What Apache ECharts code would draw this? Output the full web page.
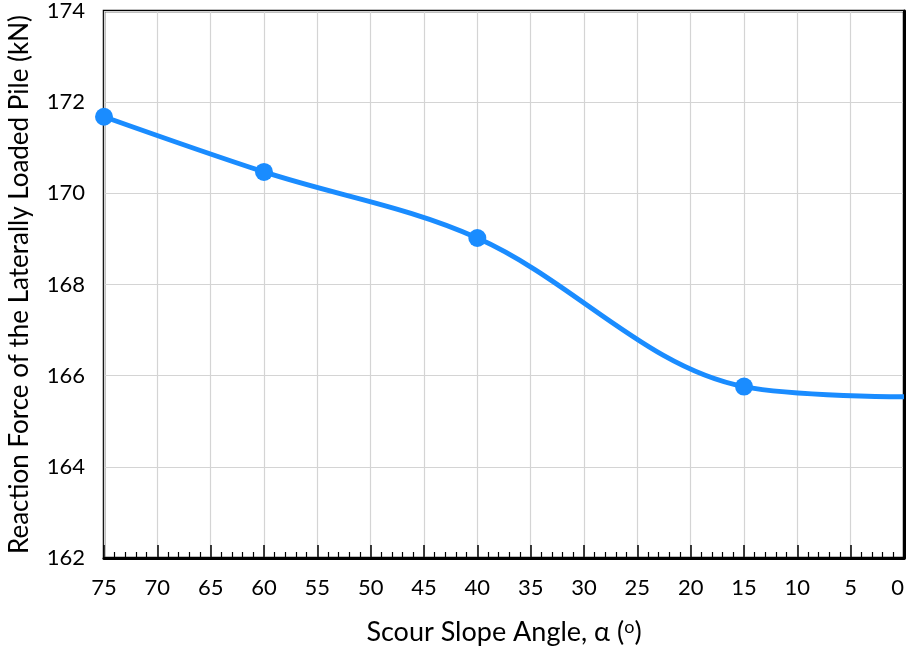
<!DOCTYPE html>
<html>
<head>
<meta charset="utf-8">
<script src="https://cdn.jsdelivr.net/npm/echarts@6/dist/echarts.min.js"></script>
<style>
  html, body { margin: 0; padding: 0; background: #fff; }
  #chart { width: 907px; height: 649px; }
</style>
</head>
<body>
<div id="chart"></div>
<script>
// Scour slope angle (degrees) and pile reaction force (kN)
const slopeAngles = [75, 60, 40, 15, 0];
const reactionForce = [171.68, 170.47, 169.02, 165.76, 165.54];
// Points that carry a marker (the last curve point is plotted without one)
const markedPoints = [true, true, true, true, false];

const FONT = 'Lato, "Open Sans", sans-serif';

const lineData = slopeAngles.map((a, i) => ({
  value: [a, reactionForce[i]],
  symbolSize: markedPoints[i] ? 18 : 0
}));

const chart = echarts.init(document.getElementById('chart'), null, { renderer: 'canvas' });
chart.setOption({
  backgroundColor: '#ffffff',
  animation: false,
  grid: {
    left: 104, right: 3, top: 11, bottom: 91,
    outerBoundsMode: 'none',
    containLabel: false,
    show: true, borderColor: '#000', borderWidth: 2.5, backgroundColor: 'transparent'
  },
  xAxis: {
    type: 'value',
    inverse: true,
    min: 0, max: 75, interval: 5,
    name: '{t|Scour Slope Angle, α (}{s|o}{t|)}',
    nameLocation: 'middle',
    nameGap: 60,
    nameTextStyle: {
      rich: {
        t: { fontFamily: FONT, fontSize: 27, color: '#000' },
        s: { fontFamily: FONT, fontSize: 18, color: '#000', verticalAlign: 'top', padding: [0, 0, 10, 0] }
      }
    },
    axisLine: { show: true, lineStyle: { color: '#000', width: 3 } },
    axisTick: { show: true, inside: true, length: 13, lineStyle: { color: '#000', width: 1.5 } },
    minorTick: { show: true, splitNumber: 5, length: 6, lineStyle: { color: '#000', width: 1.2 } },
    splitLine: { show: true, lineStyle: { color: '#d4d4d4', width: 1.2 } },
    axisLabel: { fontFamily: FONT, fontSize: 22, color: '#000', margin: 19, alignMinLabel: 'right' }
  },
  yAxis: {
    type: 'value',
    min: 162, max: 174, interval: 2,
    name: 'Reaction Force of the Laterally Loaded Pile (kN)',
    nameLocation: 'middle',
    nameGap: 71,
    nameTextStyle: { fontFamily: FONT, fontSize: 26, color: '#000' },
    axisLine: { show: true, lineStyle: { color: '#000', width: 3 } },
    axisTick: { show: false },
    splitLine: { show: true, lineStyle: { color: '#d4d4d4', width: 1.2 } },
    axisLabel: { fontFamily: FONT, fontSize: 22, color: '#000', margin: 19 }
  },
  series: [{
    type: 'line',
    data: lineData,
    smooth: 0.35,
    clip: false,
    symbol: 'circle',
    lineStyle: { color: '#1a8cff', width: 5 },
    itemStyle: { color: '#1a8cff' }
  }]
});
</script>
</body>
</html>
